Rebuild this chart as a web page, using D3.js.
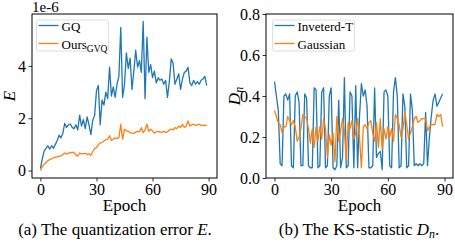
<!DOCTYPE html>
<html>
<head>
<meta charset="utf-8">
<script src="https://cdn.jsdelivr.net/npm/d3@7"></script>
<style>
  body { margin: 0; background: #fff; }
  svg text { font-family: "Liberation Serif", "Times New Roman", serif; fill: #000; }
</style>
</head>
<body>
<div id="chart"></div>
<script>
// epochs 0..89
var EPOCHS = d3.range(0, 90);
var X_TICKS = [0, 30, 60, 90];

// (a) quantization error, units of 1e-6
var GQ = [0.08,0.45,0.75,0.85,0.95,0.82,0.95,0.85,1.0,1.15,
  1.35,1.25,1.42,1.8,1.65,1.75,1.78,1.65,1.6,1.75,
  1.55,2.12,1.7,1.95,1.6,2.05,1.75,1.37,1.92,2.1,
  3.05,3.25,1.75,2.7,2.5,3.0,2.75,3.95,2.85,3.2,
  2.8,3.3,3.6,5.47,2.8,3.3,4.5,3.9,4.3,3.1,
  3.8,4.6,3.95,4.2,3.75,5.7,2.75,5.1,3.75,4.05,
  3.55,3.8,3.35,3.55,3.45,3.5,3.3,3.45,2.8,3.4,
  4.27,4.1,3.3,3.5,3.7,3.1,3.5,3.75,3.8,3.95,
  3.35,3.25,3.45,3.3,3.4,3.3,3.45,3.5,3.6,3.25];
var OURS = [0.0,0.15,0.25,0.3,0.38,0.42,0.45,0.48,0.5,0.52,
  0.55,0.55,0.62,0.67,0.63,0.67,0.68,0.7,0.68,0.6,
  0.55,0.67,0.64,0.65,0.66,0.62,0.64,0.58,0.72,0.85,
  0.88,0.98,1.06,1.08,1.13,1.18,1.2,1.33,1.15,1.2,
  1.25,1.22,1.26,1.77,1.2,1.58,1.52,1.5,1.45,1.43,
  1.42,1.47,1.5,1.48,1.64,1.45,1.55,1.77,1.5,1.58,
  1.52,1.43,1.48,1.5,1.47,1.47,1.5,1.46,1.48,1.55,
  1.58,1.55,1.64,1.6,1.7,1.65,1.77,1.65,1.7,1.9,
  1.7,1.75,1.77,1.72,1.75,1.77,1.72,1.73,1.74,1.72];
var E_TICKS = [0, 2, 4];

// (b) KS statistic
var INV_T = [0.47,0.40,0.33,0.07,0.06,0.40,0.41,0.38,0.41,0.06,
  0.05,0.40,0.42,0.37,0.06,0.06,0.41,0.39,0.06,0.05,
  0.05,0.44,0.43,0.05,0.06,0.42,0.44,0.05,0.06,0.40,
  0.44,0.05,0.04,0.06,0.38,0.05,0.10,0.49,0.05,0.06,
  0.42,0.40,0.05,0.45,0.05,0.30,0.46,0.40,0.43,0.35,
  0.05,0.05,0.06,0.44,0.10,0.12,0.13,0.04,0.42,0.43,
  0.40,0.06,0.05,0.42,0.49,0.40,0.05,0.06,0.41,0.35,
  0.05,0.06,0.41,0.33,0.06,0.07,0.06,0.07,0.06,0.07,
  0.32,0.06,0.20,0.30,0.38,0.41,0.35,0.37,0.39,0.41];
var GAUSS = [0.33,0.30,0.27,0.26,0.22,0.25,0.25,0.30,0.28,0.26,
  0.28,0.25,0.18,0.20,0.24,0.31,0.30,0.29,0.24,0.17,
  0.24,0.15,0.25,0.18,0.25,0.19,0.29,0.24,0.10,0.21,
  0.16,0.22,0.08,0.30,0.18,0.23,0.29,0.23,0.09,0.27,
  0.24,0.28,0.19,0.22,0.29,0.20,0.05,0.25,0.26,0.24,
  0.27,0.28,0.22,0.18,0.27,0.15,0.29,0.14,0.24,0.19,
  0.25,0.20,0.24,0.18,0.31,0.29,0.26,0.20,0.24,0.32,
  0.26,0.19,0.22,0.25,0.29,0.30,0.27,0.28,0.29,0.29,
  0.29,0.23,0.25,0.26,0.26,0.26,0.31,0.30,0.31,0.25];
var D_TICKS = [0.0, 0.2, 0.4, 0.6, 0.8];

var BLUE = "#1f77b4", ORANGE = "#ff7f0e";

var svg = d3.select("#chart").append("svg")
  .attr("width", 455)
  .attr("height", 243);

// draws one panel; box = [left, top, right, bottom]
var drawPanel = function(box, yDomain, yTicks, yFmt, series, legend, legendBox){
  var x = d3.scaleLinear().domain([-4.5, 94.5]).range([box[0], box[2]]);
  var y = d3.scaleLinear().domain(yDomain).range([box[3], box[1]]);

  var line = d3.line()
    .x(function(d, i){ return x(EPOCHS[i]); })
    .y(function(d){ return y(d); });

  series.forEach(function(s){
    svg.append("path")
      .attr("d", line(s.values))
      .attr("fill", "none")
      .attr("stroke", s.color)
      .attr("stroke-width", 1.3)
      .attr("stroke-linejoin", "round");
  });

  var gx = svg.append("g")
    .attr("transform", "translate(0," + box[3] + ")")
    .call(d3.axisBottom(x).tickValues(X_TICKS).tickSize(3.5).tickPadding(2.5));
  var gy = svg.append("g")
    .attr("transform", "translate(" + box[0] + ",0)")
    .call(d3.axisLeft(y).tickValues(yTicks).tickFormat(yFmt).tickSize(3.5).tickPadding(2.5));
  [gx, gy].forEach(function(g){
    g.select(".domain").remove();
    g.selectAll("line").attr("stroke", "#000").attr("stroke-width", 0.8);
    g.selectAll("text").style("font-size", "16px").attr("fill", "#000")
      .style("font-family", "'Liberation Serif', serif");
  });

  svg.append("rect")
    .attr("x", box[0]).attr("y", box[1])
    .attr("width", box[2] - box[0]).attr("height", box[3] - box[1])
    .attr("fill", "none").attr("stroke", "#000").attr("stroke-width", 1);

  // legend
  svg.append("rect")
    .attr("x", legendBox[0]).attr("y", legendBox[1])
    .attr("width", legendBox[2]).attr("height", legendBox[3])
    .attr("rx", 2)
    .attr("fill", "#fff").attr("fill-opacity", 0.8)
    .attr("stroke", "#d6d6d6").attr("stroke-width", 0.8);
  legend.forEach(function(l, i){
    var ly = legendBox[1] + 5.5 + i * 18;
    svg.append("line")
      .attr("x1", legendBox[0] + 2).attr("x2", legendBox[0] + 22)
      .attr("y1", ly).attr("y2", ly)
      .attr("stroke", l.color).attr("stroke-width", 1.3);
    var t = svg.append("text")
      .attr("x", legendBox[0] + 25).attr("y", ly + 5)
      .style("font-size", "13px");
    t.append("tspan").text(l.label);
    if (l.sub){
      t.append("tspan").attr("dy", 3).style("font-size", "9.5px").text(l.sub);
    }
  });

  // x label
  svg.append("text")
    .attr("x", (box[0] + box[2]) / 2).attr("y", 211)
    .attr("text-anchor", "middle")
    .style("font-size", "17px")
    .text("Epoch");
};

// (a)
drawPanel([32, 14, 217, 178],
  [-0.285, 5.985], E_TICKS, d3.format("d"),
  [{values: GQ, color: BLUE}, {values: OURS, color: ORANGE}],
  [{label: "GQ", color: BLUE}, {label: "Ours", sub: "GVQ", color: ORANGE}],
  [36.5, 20, 72, 31]);

svg.append("text").attr("x", 32).attr("y", 12).style("font-size", "15px").text("1e-6");

svg.append("text")
  .attr("transform", "translate(14.5,96) rotate(-90)")
  .attr("text-anchor", "middle")
  .style("font-size", "17px").style("font-style", "italic")
  .text("E");

var capA = svg.append("text").attr("x", 115).attr("y", 235)
  .attr("text-anchor", "middle").style("font-size", "17px");
capA.append("tspan").text("(a) The quantization error ");
capA.append("tspan").style("font-style", "italic").text("E");
capA.append("tspan").text(".");

// (b)
drawPanel([266, 14, 453, 178],
  [0, 0.8], D_TICKS, d3.format(".1f"),
  [{values: INV_T, color: BLUE}, {values: GAUSS, color: ORANGE}],
  [{label: "Inveterd-T", color: BLUE}, {label: "Gaussian", color: ORANGE}],
  [272.5, 20, 82, 31]);

var yl = svg.append("text")
  .attr("transform", "translate(240,96) rotate(-90)")
  .attr("text-anchor", "middle")
  .style("font-size", "17px").style("font-style", "italic");
yl.append("tspan").text("D");
yl.append("tspan").attr("dy", 3).style("font-size", "12px").text("n");

var capB = svg.append("text").attr("x", 359).attr("y", 235)
  .attr("text-anchor", "middle").style("font-size", "17px");
capB.append("tspan").text("(b) The KS-statistic ");
capB.append("tspan").style("font-style", "italic").text("D");
capB.append("tspan").style("font-style", "italic").style("font-size", "12px").attr("dy", 3).text("n");
capB.append("tspan").attr("dy", -3).text(".");
</script>
</body>
</html>
